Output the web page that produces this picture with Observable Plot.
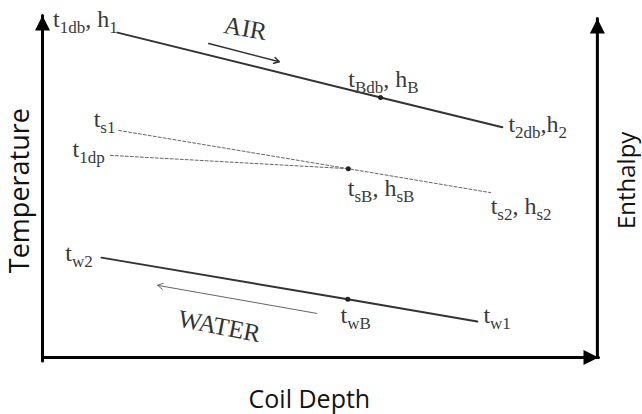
<!DOCTYPE html>
<html>
<head>
<meta charset="utf-8">
<script src="https://cdn.jsdelivr.net/npm/d3@7"></script>
<script src="https://cdn.jsdelivr.net/npm/@observablehq/plot@0.6"></script>
<style>
  html, body { margin: 0; padding: 0; background: #fff; }
</style>
</head>
<body>
<div id="chart"></div>
<script>
// Coil depth (0–100, left to right) and temperature/enthalpy (0–100, bottom to top)
const airDepth = [13.5, 60.8, 82.7];
const airValue = [95.0, 76.0, 67.3];
const satDepth = [13.7, 55.0, 80.6];
const satValue = [66.4, 55.2, 48.2];
const dewDepth = [12.2, 55.0];
const dewValue = [59.1, 55.2];
const waterDepth = [10.6, 54.9, 78.2];
const waterValue = [29.2, 17.0, 10.5];

// state points B (middle of each line)
const pointDepth = [60.8, 55.0, 54.9];
const pointValue = [76.0, 55.2, 17.0];

// flow direction arrows
const flowFromDepth = [29.9, 49.3];
const flowFromValue = [91.8, 12.9];
const flowToDepth = [42.6, 20.7];
const flowToValue = [86.5, 21.1];
const flowNames = ["AIR", "WATER"];
const flowNameDepth = [36.5, 31.8];
const flowNameValue = [96.2, 9.1];
const flowNameAngle = [10, 11];

// state labels ("_" marks a subscript)
const labelText = ["t_1db, h_1", "t_Bdb, h_B", "t_2db,h_2", "t_s1", "t_1dp", "t_sB, h_sB", "t_s2, h_s2", "t_w2", "t_wB", "t_w1"];
const labelDepth = [1.9, 55.0, 83.8, 9.2, 5.4, 54.9, 80.6, 4.1, 53.6, 79.3];
const labelValue = [96.5, 79.2, 65.8, 67.5, 58.5, 47.1, 42.1, 28.1, 10.2, 10.2];

// axes
const axisTitles = ["Temperature", "Coil Depth", "Enthalpy"];
const axisTitleDepth = [-2.5, 48.0, 106.6];
const axisTitleValue = [48.8, -14.9, 51.8];
const axisTitleAngle = [-90, 0, -90];
const axisTitleSize = [27, 25, 24];
const leftAxis = [{x: 0, y: -1}, {x: 0, y: 100}];
const bottomAxis = [{x: 0, y: 0}, {x: 100, y: 0}];
const rightAxis = [{x: 99.8, y: 0}, {x: 99.8, y: 99.1}];
const axisTips = [{x: 0, y: 100, r: 0}, {x: 100, y: 0, r: 90}, {x: 99.8, y: 99.1, r: 0}];

const zip = (xs, ys) => xs.map((x, i) => ({x, y: ys[i]}));
const air = zip(airDepth, airValue);
const sat = zip(satDepth, satValue);
const dew = zip(dewDepth, dewValue);
const water = zip(waterDepth, waterValue);
const points = zip(pointDepth, pointValue);
const flows = flowFromDepth.map((d, i) => ({x1: d, y1: flowFromValue[i], x2: flowToDepth[i], y2: flowToValue[i], w: i === 0 ? 1.5 : 1, c: i === 0 ? "#333" : "#666"}));
const flowLabels = flowNames.map((t, i) => ({t, x: flowNameDepth[i], y: flowNameValue[i], r: flowNameAngle[i]}));
const labels = labelText.map((t, i) => ({t, x: labelDepth[i], y: labelValue[i]}));
const titles = axisTitles.map((t, i) => ({t, x: axisTitleDepth[i], y: axisTitleValue[i], r: axisTitleAngle[i], s: axisTitleSize[i]}));

const arrowHead = {
  draw(context) {
    context.moveTo(0, 0);
    context.lineTo(-7.5, 15);
    context.lineTo(7.5, 15);
    context.closePath();
  }
};

const serif = "'Liberation Serif', 'DejaVu Serif', serif";

const chart = Plot.plot({
  width: 642,
  height: 414,
  marginLeft: 42,
  marginRight: 44,
  marginTop: 15,
  marginBottom: 57,
  x: {domain: [0, 100], axis: null},
  y: {domain: [0, 100], axis: null},
  style: {background: "#fff", overflow: "visible"},
  marks: [
    Plot.line(leftAxis, {x: "x", y: "y", stroke: "#000", strokeWidth: 3}),
    Plot.line(bottomAxis, {x: "x", y: "y", stroke: "#000", strokeWidth: 3}),
    Plot.line(rightAxis, {x: "x", y: "y", stroke: "#000", strokeWidth: 3}),
    Plot.dot(axisTips, {x: "x", y: "y", rotate: "r", symbol: arrowHead, fill: "#000", stroke: "none"}),
    Plot.line(air, {x: "x", y: "y", stroke: "#333", strokeWidth: 2}),
    Plot.line(sat, {x: "x", y: "y", stroke: "#666", strokeWidth: 1, strokeDasharray: "3,2"}),
    Plot.line(dew, {x: "x", y: "y", stroke: "#666", strokeWidth: 1, strokeDasharray: "3,2"}),
    Plot.line(water, {x: "x", y: "y", stroke: "#333", strokeWidth: 2}),
    Plot.dot(points, {x: "x", y: "y", r: 2.5, fill: "#222", stroke: "none"}),
    Plot.arrow(flows, {x1: "x1", y1: "y1", x2: "x2", y2: "y2", stroke: "c", strokeWidth: "w", headLength: 9}),
    Plot.text(flowLabels, {x: "x", y: "y", text: "t", rotate: "r", fontSize: 25, fontFamily: serif, fill: "#333", textAnchor: "middle", lineAnchor: "middle"}),
    Plot.text(labels, {x: "x", y: "y", text: "t", textAnchor: "start", lineAnchor: "bottom", fontSize: 24, fontFamily: serif, fill: "#3a3a3a"}),
    Plot.text(titles, {x: "x", y: "y", text: "t", rotate: "r", fontSize: "s", textAnchor: "middle", lineAnchor: "bottom", fontFamily: "'Open Sans', sans-serif", fill: "#111"})
  ]
});

// turn "_xyz" pieces into real subscript tspans
d3.select(chart).selectAll("text").each(function () {
  const s = this.textContent;
  if (!s.includes("_")) return;
  const parts = s.split(/(_[A-Za-z0-9]+)/).filter(p => p !== "");
  this.textContent = "";
  let shifted = false;
  for (const p of parts) {
    const ts = document.createElementNS("http://www.w3.org/2000/svg", "tspan");
    if (p.startsWith("_")) {
      ts.textContent = p.slice(1);
      ts.setAttribute("font-size", "17");
      if (!shifted) { ts.setAttribute("dy", "6"); shifted = true; }
    } else {
      ts.textContent = p;
      if (shifted) { ts.setAttribute("dy", "-6"); shifted = false; }
    }
    this.appendChild(ts);
  }
});

document.getElementById("chart").appendChild(chart);
</script>
</body>
</html>
